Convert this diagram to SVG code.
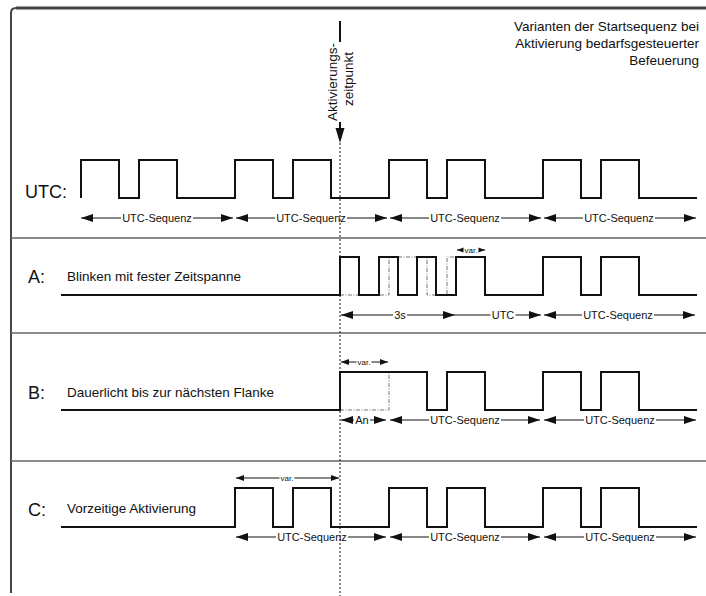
<svg xmlns="http://www.w3.org/2000/svg" width="706" height="596" viewBox="0 0 706 596">
<defs>
<style>
text{font-family:"Liberation Sans",Arial,sans-serif;fill:#111}
.title{font-size:13.5px;text-anchor:end}
.lbl{font-size:18px}
.desc{font-size:13.5px}
.seq{font-size:11px;text-anchor:middle}
.var{font-size:8px;text-anchor:middle}
.bg{fill:#fff}
.wave{fill:none;stroke:#111;stroke-width:2;stroke-linejoin:miter}
.ghost{fill:none;stroke:#777;stroke-width:1;stroke-dasharray:4,1.5,1,1.5}
.dim{stroke:#111;stroke-width:1;marker-start:url(#ah);marker-end:url(#ah)}
.dimE{stroke:#111;stroke-width:1;marker-end:url(#ah)}
.dimS{stroke:#111;stroke-width:1;marker-start:url(#as);marker-end:url(#as)}
.sep{stroke:#666;stroke-width:1.5}
</style>
<marker id="ah" viewBox="0 0 12 8" refX="12" refY="4" markerWidth="12" markerHeight="8" markerUnits="userSpaceOnUse" orient="auto-start-reverse"><path d="M0,0L12,4L0,8z" fill="#111"/></marker>
<marker id="as" viewBox="0 0 8 6" refX="8" refY="3" markerWidth="8" markerHeight="6" markerUnits="userSpaceOnUse" orient="auto-start-reverse"><path d="M0,0L8,3L0,6z" fill="#111"/></marker>
</defs>
<rect width="706" height="596" fill="#fff"/>
<g id="frame">
<path d="M11,593 V13 Q11,8 16,8 H706" fill="none" stroke="#444" stroke-width="2"/>
<line x1="16" y1="8" x2="706" y2="8" stroke="#444" stroke-width="3"/>
<line class="sep" x1="11" y1="238" x2="706" y2="238"/>
<line class="sep" x1="11" y1="333" x2="706" y2="333"/>
<line class="sep" x1="11" y1="461" x2="706" y2="461"/>
</g>
<g id="title">
<text class="title" x="699" y="31">Varianten der Startsequenz bei</text>
<text class="title" x="699" y="48">Aktivierung bedarfsgesteuerter</text>
<text class="title" x="699" y="65">Befeuerung</text>
</g>
<g id="row-utc">
<text class="lbl" x="25" y="198">UTC:</text>
<path class="wave" d="M81,198 V160 H119 V198 H139 V160 H177 V198 H235 V160 H273 V198 H293 V160 H331 V198 H389 V160 H427 V198 H447 V160 H485 V198 H543 V160 H581 V198 H601 V160 H639 V198 H697"/>
</g>
<g id="row-a">
<text class="lbl" x="28" y="283">A:</text>
<text class="desc" x="67" y="281">Blinken mit fester Zeitspanne</text>
<path class="ghost" d="M340,295 H389 V257 H427 V295 H447 V257 H456"/>
<path class="wave" d="M61,295 H340 V257 H359 V295 H379 V257 H398 V295 H417 V257 H436 V295 H456 V257 H485 V295 H543 V257 H581 V295 H601 V257 H639 V295 H697"/>
</g>
<g id="row-b">
<text class="lbl" x="28" y="399">B:</text>
<text class="desc" x="67" y="397">Dauerlicht bis zur nächsten Flanke</text>
<path class="ghost" d="M340,410 H389 V372"/>
<path class="wave" d="M61,410 H340 V372 H427 V410 H447 V372 H485 V410 H543 V372 H581 V410 H601 V372 H639 V410 H697"/>
</g>
<g id="row-c">
<text class="lbl" x="28" y="516">C:</text>
<text class="desc" x="67" y="513">Vorzeitige Aktivierung</text>
<path class="wave" d="M61,527 H235 V488 H273 V527 H293 V488 H331 V527 H389 V488 H427 V527 H447 V488 H485 V527 H543 V488 H581 V527 H601 V488 H639 V527 H697"/>
</g>
<g id="connectors">
<line class="dim" x1="81" y1="218" x2="233" y2="218"/>
<line class="dim" x1="236" y1="218" x2="387" y2="218"/>
<line class="dim" x1="390" y1="218" x2="541" y2="218"/>
<line class="dim" x1="544" y1="218" x2="696" y2="218"/>
<line class="dimS" x1="457" y1="250" x2="485" y2="250"/>
<line class="dim" x1="341" y1="315" x2="455" y2="315"/>
<line class="dimE" x1="455" y1="315" x2="541" y2="315"/>
<line class="dim" x1="544" y1="315" x2="695" y2="315"/>
<line class="dimS" x1="341" y1="362" x2="388" y2="362"/>
<line class="dim" x1="341" y1="420" x2="386" y2="420"/>
<line class="dim" x1="390" y1="420" x2="540" y2="420"/>
<line class="dim" x1="544" y1="420" x2="696" y2="420"/>
<line class="dimS" x1="236" y1="478" x2="339" y2="478"/>
<line class="dim" x1="236" y1="537" x2="386" y2="537"/>
<line class="dim" x1="390" y1="537" x2="540" y2="537"/>
<line class="dim" x1="544" y1="537" x2="696" y2="537"/>
</g>
<g id="labels">
<rect class="bg" x="121" y="213" width="72" height="10"/><text class="seq" x="157" y="222">UTC-Sequenz</text>
<rect class="bg" x="275" y="213" width="72" height="10"/><text class="seq" x="311" y="222">UTC-Sequenz</text>
<rect class="bg" x="429" y="213" width="72" height="10"/><text class="seq" x="465" y="222">UTC-Sequenz</text>
<rect class="bg" x="583" y="213" width="72" height="10"/><text class="seq" x="619" y="222">UTC-Sequenz</text>
<rect class="bg" x="463.5" y="246" width="15" height="8"/><text class="var" x="471" y="253">var.</text>
<rect class="bg" x="393" y="310" width="14" height="10"/><text class="seq" x="400" y="319">3s</text>
<rect class="bg" x="490.5" y="310" width="25" height="10"/><text class="seq" x="503" y="319">UTC</text>
<rect class="bg" x="582" y="310" width="72" height="10"/><text class="seq" x="618" y="319">UTC-Sequenz</text>
<rect class="bg" x="356.5" y="358" width="15" height="8"/><text class="var" x="364" y="365">var.</text>
<rect class="bg" x="354" y="415" width="16" height="10"/><text class="seq" x="362" y="424">An</text>
<rect class="bg" x="429" y="415" width="72" height="10"/><text class="seq" x="465" y="424">UTC-Sequenz</text>
<rect class="bg" x="584" y="415" width="72" height="10"/><text class="seq" x="620" y="424">UTC-Sequenz</text>
<rect class="bg" x="279.5" y="474" width="15" height="8"/><text class="var" x="287" y="481">var.</text>
<rect class="bg" x="276" y="532" width="72" height="10"/><text class="seq" x="312" y="541">UTC-Sequenz</text>
<rect class="bg" x="429" y="532" width="72" height="10"/><text class="seq" x="465" y="541">UTC-Sequenz</text>
<rect class="bg" x="584" y="532" width="72" height="10"/><text class="seq" x="620" y="541">UTC-Sequenz</text>
</g>
<g id="activation">
<line x1="340" y1="21" x2="340" y2="42" stroke="#111" stroke-width="2"/>
<text class="desc" text-anchor="middle" transform="translate(337,82) rotate(-90)">Aktivierungs-</text>
<text class="desc" text-anchor="middle" transform="translate(353,79) rotate(-90)">zeitpunkt</text>
<line x1="340" y1="122" x2="340" y2="131" stroke="#111" stroke-width="2"/>
<path d="M335.5,128 L344.5,128 L340,143z" fill="#111"/>
<line x1="340" y1="143" x2="340" y2="596" stroke="#111" stroke-width="1" stroke-dasharray="2,2"/>
</g>
</svg>
